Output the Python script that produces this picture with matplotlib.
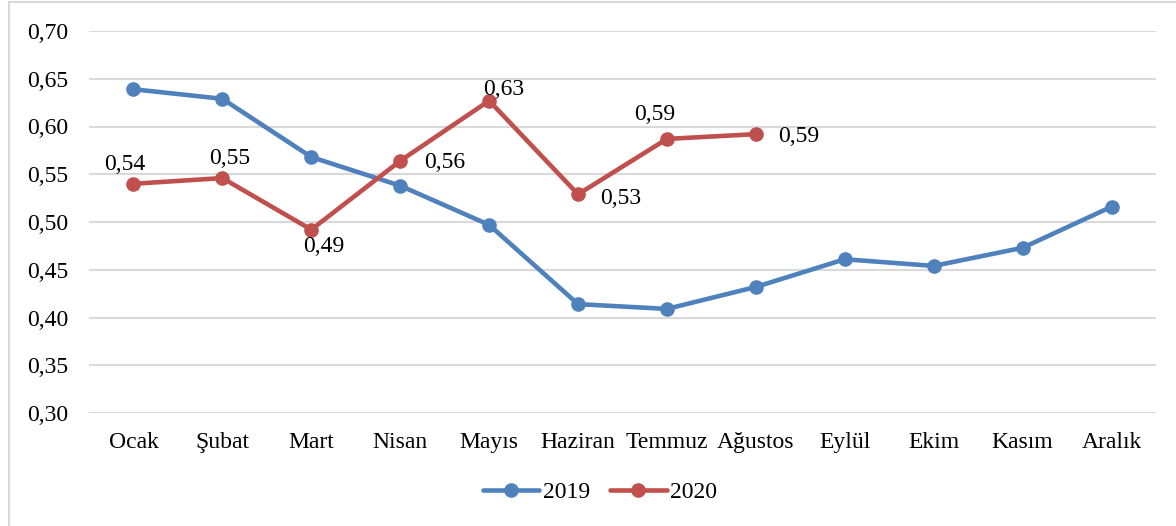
import matplotlib
matplotlib.use('Agg')
import matplotlib.pyplot as plt
from matplotlib.patches import Rectangle

# aylar
months = ['Ocak', 'Şubat', 'Mart', 'Nisan', 'Mayıs', 'Haziran', 'Temmuz',
          'Ağustos', 'Eylül', 'Ekim', 'Kasım', 'Aralık']
values_2019 = [0.639, 0.629, 0.568, 0.538, 0.497, 0.414, 0.409, 0.432,
               0.461, 0.454, 0.473, 0.516]
values_2020 = [0.540, 0.546, 0.492, 0.564, 0.627, 0.529, 0.587, 0.592]
y_ticks = [0.30, 0.35, 0.40, 0.45, 0.50, 0.55, 0.60, 0.65, 0.70]

blue = '#4F81BD'
red = '#C0504D'

plt.rcParams['font.family'] = ['Liberation Serif', 'DejaVu Serif']

fig = plt.figure(figsize=(11.76, 5.26), dpi=100)
ax = fig.add_axes([89 / 1176, 1 - 413 / 526, (1156 - 89) / 1176, (413 - 31) / 526])

x19 = list(range(len(values_2019)))
x20 = list(range(len(values_2020)))
ax.plot(x19, values_2019, color=blue, lw=3.3, marker='o', ms=9.5, label='2019',
        solid_capstyle='round', zorder=3)
ax.plot(x20, values_2020, color=red, lw=3.3, marker='o', ms=9.5, label='2020',
        solid_capstyle='round', zorder=4)

# etiket kaydırmaları (piksel)
label_dx = [-9, 7, 12, 44, 15, 43, -12, 43]
label_dy = [19, 20, -17, -2, 11, -4, 24, -2]
for x, v, dx, dy in zip(x20, values_2020, label_dx, label_dy):
    ax.annotate(('%.2f' % v).replace('.', ','), (x, v), xytext=(dx, dy),
                textcoords='offset pixels', ha='center', va='center',
                fontsize=17, zorder=5)

ax.set_xlim(-0.5, 11.5)
ax.set_ylim(0.30, 0.70)
ax.set_yticks(y_ticks)
ax.set_yticklabels([('%.2f' % t).replace('.', ',') for t in y_ticks])
ax.set_xticks(x19)
ax.set_xticklabels(months)
ax.tick_params(axis='both', length=0, labelsize=17)
ax.tick_params(axis='x', pad=14)
ax.tick_params(axis='y', pad=15)
ax.grid(axis='y', color='#D9D9D9', lw=1.5)
ax.set_axisbelow(True)
for s in ax.spines.values():
    s.set_visible(False)

leg = fig.legend(loc='center', bbox_to_anchor=(600 / 1176, 1 - 492 / 526), ncol=2,
                 frameon=False, fontsize=17, handlelength=2.4, columnspacing=0.85,
                 handletextpad=0.15)

# grafik çerçevesi
fig.patches.append(Rectangle((9 / 1176, -0.1), 1.2, 1 - 2 / 526 + 0.1,
                             transform=fig.transFigure, fill=False,
                             edgecolor='#D9D9D9', lw=1.5))

fig.savefig('out.png', dpi=100)
